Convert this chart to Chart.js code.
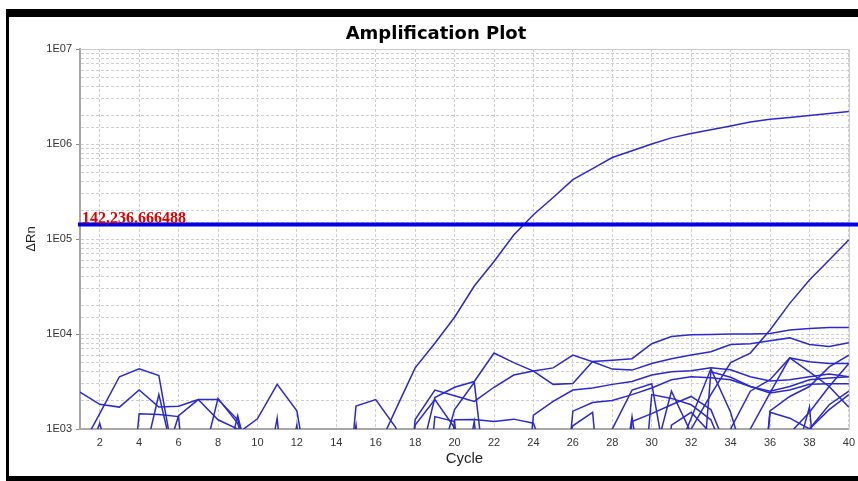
<!DOCTYPE html>
<html>
<head>
<meta charset="utf-8">
<script src="https://cdn.jsdelivr.net/npm/chart.js@4"></script>
<style>
  html, body { margin: 0; padding: 0; background: #fff; overflow: hidden; }
  #plot { display: block; }
</style>
</head>
<body>
<canvas id="plot" width="858" height="481"></canvas>
<script>
// Amplification plot - ΔRn per cycle on a log axis
const chartTitle = 'Amplification Plot';
const xTitle = 'Cycle';
const yTitle = 'ΔRn';
const cycleTicks = [2, 4, 6, 8, 10, 12, 14, 16, 18, 20, 22, 24, 26, 28, 30, 32, 34, 36, 38, 40];
const yTickLabels = ['1E03', '1E04', '1E05', '1E06', '1E07'];
const threshold = 142236.666488;
const thresholdLabel = '142,236.666488';

// wells as [cycle, ΔRn]; anything under 1E03 gets cut off by the axis
const well01 = [[16, 560], [17, 1580], [18, 4400], [19, 8000], [20, 15000], [21, 32000], [22, 58000], [23, 110000], [24, 180000], [25, 273000], [26, 422000], [27, 550000], [28, 720000], [29, 850000], [30, 1000000], [31, 1160000], [32, 1290000], [33, 1410000], [34, 1550000], [35, 1700000], [36, 1820000], [37, 1900000], [38, 2000000], [39, 2090000], [40, 2200000]];
const well02 = [[31, 300], [32, 1000], [33, 2300], [34, 5000], [35, 6300], [36, 11000], [37, 21000], [38, 37000], [39, 60000], [40, 98000]];
const well03 = [[18, 300], [19, 2140], [20, 2750], [21, 3160], [22, 6300], [23, 5000], [24, 4070], [25, 2950], [26, 3020], [27, 5130], [28, 5300], [29, 5500], [30, 7900], [31, 9400], [32, 9800], [33, 9900], [34, 10000], [35, 10000], [36, 10100], [37, 11000], [38, 11400], [39, 11700], [40, 11700]];
const well04 = [[17, 10], [18, 1260], [19, 2570], [20, 2240], [21, 1950], [22, 2750], [23, 3700], [24, 4070], [25, 4400], [26, 6000], [27, 5100], [28, 4270], [29, 4170], [30, 4900], [31, 5500], [32, 6000], [33, 6500], [34, 7760], [35, 7900], [36, 8500], [37, 9100], [38, 7760], [39, 7400], [40, 8100]];
const well05 = [[23, 10], [24, 1400], [25, 1950], [26, 2570], [27, 2700], [28, 2950], [29, 3160], [30, 3700], [31, 4000], [32, 4100], [33, 4400], [34, 4200], [35, 3550], [36, 3200], [37, 3300], [38, 3550], [39, 3800], [40, 3550]];
const well06 = [[25, 10], [26, 1540], [27, 1900], [28, 2000], [29, 2300], [30, 2700], [31, 3300], [32, 3550], [33, 3470], [34, 3300], [35, 2800], [36, 2400], [37, 2570], [38, 2950], [39, 3000], [40, 3000]];
const well07 = [[25, 300], [26, 1080], [27, 1500], [28, 10]];
const well08 = [[27, 10], [28, 1000], [29, 2570], [30, 3000], [31, 200]];
const well09 = [[29, 10], [30, 2300], [31, 2100], [32, 1800], [33, 1250], [34, 400]];
const well10 = [[30, 400], [31, 2500], [32, 900]];
const well11 = [[28, 50], [29, 1350], [30, 50]];
const well12 = [[28, 10], [29, 1200], [30, 1450], [31, 1800], [32, 2200], [33, 1600], [34, 500]];
const well13 = [[31, 400], [32, 1300], [33, 4300], [34, 1500], [35, 300]];
const well14 = [[32, 10], [33, 4000], [34, 3500], [35, 2800], [36, 2500], [37, 2800], [38, 3300], [39, 3450], [40, 3550]];
const well15 = [[33, 10], [34, 1000], [35, 2500], [36, 3300], [37, 5600], [38, 5100], [39, 4900], [40, 4900]];
const well16 = [[35, 10], [36, 1550], [37, 2200], [38, 2800], [39, 4500], [40, 6000]];
const well17 = [[36, 300], [37, 900], [38, 1500], [39, 2800], [40, 4900]];
const well18 = [[34, 300], [35, 1000], [36, 2400], [37, 5600], [38, 4000], [39, 2800], [40, 1700]];
const well19 = [[37, 300], [38, 1700], [39, 10]];
const well20 = [[35, 10], [36, 1500], [37, 1300], [38, 1000], [39, 1800], [40, 2500]];
const well21 = [[37, 10], [38, 1000], [39, 1600], [40, 2300]];
const well22 = [[30, 10], [31, 1100], [32, 1500], [33, 900]];
const well23 = [[1, 2450], [2, 1820], [3, 1700], [4, 2570], [5, 1700], [6, 1740], [7, 2040], [8, 2040], [9, 1250], [10, 300]];
const well24 = [[1, 600], [2, 1450], [3, 3550], [4, 4300], [5, 3650], [6, 250]];
const well25 = [[4, 300], [5, 2300], [6, 300]];
const well26 = [[3, 10], [4, 1450], [5, 1420], [6, 1350], [7, 10]];
const well27 = [[7, 300], [8, 2100], [9, 1150], [10, 200]];
const well28 = [[8, 10], [9, 900], [10, 1280], [11, 2950], [12, 1550], [13, 100]];
const well29 = [[10, 100], [11, 1300], [12, 10]];
const well30 = [[11, 100], [12, 1100], [13, 10]];
const well31 = [[1, 300], [2, 1150], [3, 200]];
const well32 = [[8, 200], [9, 1380], [10, 200]];
const well33 = [[5, 300], [6, 1380], [7, 2040], [8, 1250], [9, 1000], [10, 300]];
const well34 = [[14, 10], [15, 1740], [16, 2040], [17, 1050], [18, 300]];
const well35 = [[14, 100], [15, 1100], [16, 10]];
const well36 = [[17, 10], [18, 1100], [19, 2040], [20, 1030], [21, 100]];
const well37 = [[19, 10], [20, 1250], [21, 1260], [22, 1200], [23, 1270], [24, 1150], [25, 300]];
const well38 = [[20, 100], [21, 1200], [22, 10]];
const well39 = [[18, 10], [19, 1350], [20, 1200], [21, 10]];
const well40 = [[19, 300], [20, 1600], [21, 3100], [22, 50]];

const wells = [well01, well02, well03, well04, well05, well06, well07, well08, well09, well10,
  well11, well12, well13, well14, well15, well16, well17, well18, well19, well20,
  well21, well22, well23, well24, well25, well26, well27, well28, well29, well30,
  well31, well32, well33, well34, well35, well36, well37, well38, well39, well40];

const lineColor = '#2a2acc';
const gridColor = '#cfcfcf';
const axisColor = '#a8a8a8';
const labelFont = { family: '"Liberation Sans", Arial, sans-serif', size: 11 };

function isDecade(v) {
  const e = Math.round(Math.log10(v));
  return Math.abs(v - Math.pow(10, e)) < v * 1e-6;
}

// frame, plot border, threshold line + title
const framePlugin = {
  id: 'frame',
  beforeDraw(chart) {
    const ctx = chart.ctx;
    ctx.save();
    ctx.fillStyle = '#fff';
    ctx.fillRect(0, 0, chart.width, chart.height);
    ctx.restore();
  },
  afterDatasetsDraw(chart) {
    const { ctx, chartArea: a } = chart;
    const ty = chart.scales.y.getPixelForValue(threshold);
    ctx.save();
    ctx.strokeStyle = '#c8c8c8';
    ctx.lineWidth = 1;
    ctx.beginPath();
    ctx.moveTo(a.left, a.top + 0.5);
    ctx.lineTo(a.right + 0.5, a.top + 0.5);
    ctx.lineTo(a.right + 0.5, a.bottom);
    ctx.stroke();

    ctx.strokeStyle = '#0000e6';
    ctx.lineWidth = 4;
    ctx.beginPath();
    ctx.moveTo(a.left - 2, ty);
    ctx.lineTo(chart.width, ty);
    ctx.stroke();

    ctx.fillStyle = '#e00000';
    ctx.font = 'bold 16px "Liberation Serif", "Times New Roman", serif';
    ctx.textAlign = 'left';
    ctx.textBaseline = 'alphabetic';
    ctx.fillText(thresholdLabel, a.left + 2, ty - 1);
    ctx.restore();
  },
  afterDraw(chart) {
    const ctx = chart.ctx;
    ctx.save();
    ctx.fillStyle = '#000';
    ctx.font = 'bold 18px "DejaVu Sans", Verdana, sans-serif';
    ctx.textAlign = 'center';
    ctx.textBaseline = 'alphabetic';
    ctx.fillText(chartTitle, 436, 39);
    // black picture frame
    ctx.fillRect(6, 9, chart.width - 6, 8);
    ctx.fillRect(6, 9, 3, chart.height - 9);
    ctx.fillRect(6, 476, chart.width - 6, 5);
    ctx.restore();
  }
};

new Chart(document.getElementById('plot'), {
  type: 'line',
  data: {
    datasets: wells.map(w => ({
      data: w.map(([c, v]) => ({ x: c, y: v })),
      borderColor: lineColor,
      borderWidth: 1.5,
      pointRadius: 0,
      tension: 0,
      fill: false,
      clip: 0
    }))
  },
  options: {
    responsive: false,
    animation: false,
    devicePixelRatio: 1,
    layout: { padding: { top: 49, right: 3, left: 0, bottom: 0 } },
    plugins: {
      legend: { display: false },
      tooltip: { enabled: false },
      title: { display: false }
    },
    scales: {
      x: {
        type: 'linear',
        min: 1,
        max: 40,
        afterBuildTicks: scale => { scale.ticks = cycleTicks.map(v => ({ value: v })); },
        afterFit: scale => { scale.height = 52; },
        grid: {
          color: gridColor,
          lineWidth: 1,
          tickLength: 4,
          tickColor: 'rgba(0,0,0,0)'
        },
        // in v4 border.dash is what dashes the grid lines
        border: { color: axisColor, width: 2, dash: [3, 2] },
        ticks: {
          autoSkip: false,
          maxRotation: 0,
          padding: 3,
          color: '#333',
          font: labelFont,
          callback: v => String(v)
        },
        title: {
          display: true,
          text: xTitle,
          color: '#222',
          font: { family: '"Liberation Sans", Arial, sans-serif', size: 15 },
          padding: { top: 0, bottom: 13 }
        }
      },
      y: {
        type: 'logarithmic',
        min: 1000,
        max: 10000000,
        afterFit: scale => { scale.width = 80; },
        grid: {
          color: gridColor,
          lineWidth: 1,
          tickLength: 4,
          tickColor: ctx => (ctx.tick && isDecade(ctx.tick.value)) ? '#888' : 'rgba(0,0,0,0)'
        },
        border: { color: axisColor, width: 2, dash: [3, 2] },
        ticks: {
          autoSkip: false,
          padding: 4,
          color: '#333',
          font: labelFont,
          callback: v => isDecade(v) ? yTickLabels[Math.round(Math.log10(v)) - 3] : ''
        },
        title: {
          display: true,
          text: yTitle,
          color: '#222',
          font: { family: '"Liberation Sans", Arial, sans-serif', size: 13 },
          padding: { top: 24, bottom: 0 }
        }
      }
    }
  },
  plugins: [framePlugin]
});
</script>
</body>
</html>
